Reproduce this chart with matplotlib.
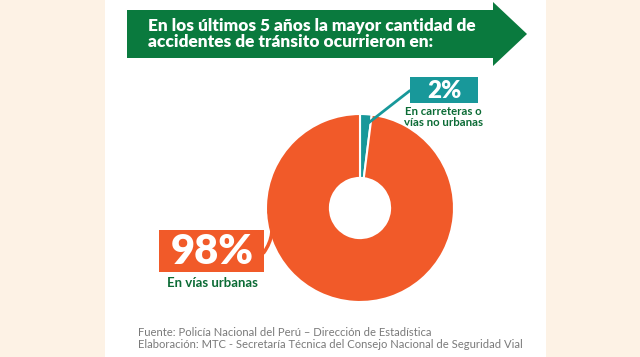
import matplotlib
matplotlib.use("Agg")
import matplotlib.pyplot as plt
from matplotlib.patches import Rectangle, Polygon
import numpy as np

# ---- data ----
categories = ["En carreteras o\nvías no urbanas", "En vías urbanas"]
values = [2, 98]
labels_pct = ["2%", "98%"]
title_text = "En los últimos 5 años la mayor cantidad de\naccidentes de tránsito ocurrieron en:"
footer_lines = ["Fuente: Policía Nacional del Perú – Dirección de Estadística",
                "Elaboración: MTC - Secretaría Técnica del Consejo Nacional de Seguridad Vial"]

W, H = 640, 357
PEACH = "#fdf2e5"
GREEN = "#0a7a3e"
DKGREEN = "#0b6b35"
ORANGE = "#f15a29"
TEAL = "#18989a"
GRAY = "#7a7a7a"
FONT = "Lato"

fig = plt.figure(figsize=(W / 100, H / 100), dpi=100)
fig.patch.set_facecolor(PEACH)

# overlay axes in pixel coordinates
ov = fig.add_axes([0, 0, 1, 1])
ov.set_xlim(0, W)
ov.set_ylim(H, 0)
ov.axis("off")
ov.add_patch(Rectangle((105, 0), 441, H, facecolor="white", edgecolor="none"))

# arrow banner
ov.add_patch(Polygon([(127, 10), (493, 10), (493, 2), (527, 34), (493, 66), (493, 58), (127, 58)],
                     closed=True, facecolor=GREEN, edgecolor="none"))
ov.text(148, 34, title_text, color="white", fontsize=12.4, fontweight="heavy",
        family=FONT, va="center", ha="left", linespacing=1.0)

# donut
cx, cy, R = 360, 208, 94
side = 2.5 * R
pax = fig.add_axes([(cx - side / 2) / W, (H - cy - side / 2) / H, side / W, side / H])
wedges, _ = pax.pie(values, colors=[TEAL, ORANGE], startangle=90, counterclock=False,
                    radius=1.0, wedgeprops=dict(width=0.68, edgecolor="white", linewidth=1.5))
pax.set_xlim(-1.25, 1.25)
pax.set_ylim(-1.25, 1.25)
pax.set_aspect("equal")
pax.axis("off")

def wedge_point(frac_r, ang):
    a = np.deg2rad(ang)
    return (frac_r * np.cos(a), frac_r * np.sin(a))

w0 = wedges[0]
mid0 = (w0.theta1 + w0.theta2) / 2
p0 = wedge_point(0.88, mid0)
pax.annotate("", xy=p0, xycoords="data", xytext=(412, 89), textcoords=ov.transData,
             arrowprops=dict(arrowstyle="-", color=TEAL, lw=2))

p1 = wedge_point(0.98, 181)
pax.annotate("", xy=p1, xycoords="data", xytext=(262, 255), textcoords=ov.transData,
             arrowprops=dict(arrowstyle="-", color=ORANGE, lw=2.5,
                             connectionstyle="arc3,rad=0.3"))

# 2% box
ov.add_patch(Rectangle((410, 77), 68, 26, facecolor=TEAL, edgecolor="none"))
ov.text(444, 91, labels_pct[0], color="white", fontsize=17.5, fontweight="heavy",
        family=FONT, ha="center", va="center")
ov.text(443, 117, categories[0], color=DKGREEN, fontsize=8.2, fontweight="bold",
        family=FONT, ha="center", va="center", linespacing=0.95)

# 98% box
ov.add_patch(Rectangle((159, 230), 105, 42, facecolor=ORANGE, edgecolor="none"))
ov.text(212, 252, labels_pct[1], color="white", fontsize=30, fontweight="heavy",
        family=FONT, ha="center", va="center")
ov.text(212, 283, categories[1], color=DKGREEN, fontsize=9.5, fontweight="bold",
        family=FONT, ha="center", va="center")

# footer
ov.text(138, 333, footer_lines[0], color=GRAY, fontsize=8.1, family=FONT,
        ha="left", va="center")
ov.text(138, 344, footer_lines[1], color=GRAY, fontsize=8.1, family=FONT,
        ha="left", va="center")

fig.savefig("out.png", dpi=100, facecolor=PEACH)
